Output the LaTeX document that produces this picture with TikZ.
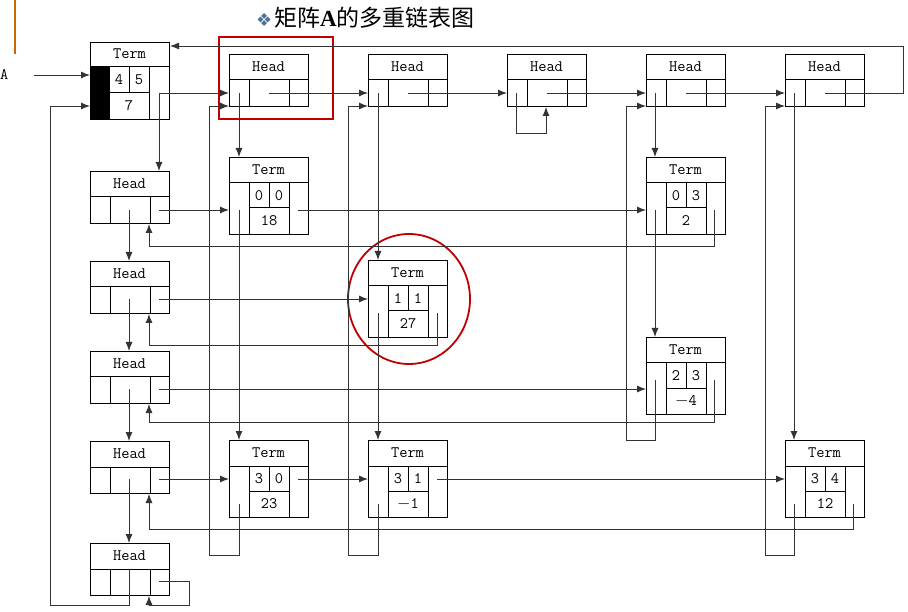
\documentclass[tikz,border=0pt]{standalone}
\usepackage{fontspec}
\setmainfont{Liberation Serif}
\newfontfamily\cjk{Noto Sans CJK SC}
\newfontfamily\djv{DejaVu Sans}
\usetikzlibrary{arrows.meta,calc}
\tikzset{
 box/.style={draw,line width=1pt,minimum width=79pt,inner sep=0pt,anchor=north west},
 lbl/.style={font=\ttfamily\fontsize{16}{16}\selectfont,inner sep=0pt},
 ptr/.style={line width=0.9pt,draw=black!80},
 arr/.style={ptr,-{Latex[length=9pt,width=7pt]}},
 redmark/.style={draw={rgb,255:red,192;green,0;blue,0},line width=1.8pt}
}
\newcommand\HeadBox[3]{%
 \node[box,minimum height=52pt] (#1) at (#2,#3) {};
 \draw[line width=1pt] (#2,#3+26)--++(79,0) (#2+20,#3+26)--++(0,26) (#2+60,#3+26)--++(0,26);
 \node[lbl] (#1-t) at (#2+39.5,#3+13) {Head};
}
\newcommand\TermBox[6]{%
 \node[box,minimum height=77pt] (#1) at (#2,#3) {};
 \draw[line width=1pt] (#2,#3+26)--++(79,0) (#2+20,#3+26)--++(0,51) (#2+60,#3+26)--++(0,51)
   (#2+20,#3+51)--++(40,0) (#2+40,#3+26)--++(0,25);
 \node[lbl] (#1-t) at (#2+39.5,#3+13) {Term};
 \node[lbl] (#1-i) at (#2+30,#3+38.5) {#4};
 \node[lbl] (#1-j) at (#2+50,#3+38.5) {#5};
 \node[lbl] (#1-v) at (#2+40,#3+64) {#6};
}
\begin{document}
\begin{tikzpicture}[x=1pt,y=-1pt]
\useasboundingbox (0,0) rectangle (908,612);
\draw[line width=2pt,draw={rgb,255:red,204;green,102;blue,0}] (15,0)--(15,54);
\node[anchor=west,inner sep=0pt] (title) at (256,18) {{\color[rgb]{0.3,0.45,0.6}\djv\fontsize{18}{18}\selectfont ❖}\,{\cjk\fontsize{23}{23}\selectfont 矩阵}{\fontsize{23}{23}\selectfont\bfseries A}{\cjk\fontsize{23}{23}\selectfont 的多重链表图}};
\node[lbl,anchor=west] (A) at (0,75) {A};
% top-left term
\node[box,minimum height=77pt] (T) at (90,42) {};
\fill (90,67) rectangle (109,119);
\draw[line width=1pt] (90,67)--(169,67) (109,67)--(109,119) (149,67)--(149,119) (109,93)--(149,93) (129,67)--(129,93);
\node[lbl] at (129.5,54) {Term};
\node[lbl] at (119,80) {4};
\node[lbl] at (139,80) {5};
\node[lbl] at (129,106) {7};
% top heads
\HeadBox{c0}{229}{54}
\HeadBox{c1}{368}{54}
\HeadBox{c2}{507}{54}
\HeadBox{c3}{646}{54}
\HeadBox{c4}{785}{54}
% row heads
\HeadBox{r0}{90}{171}
\HeadBox{r1}{90}{261}
\HeadBox{r2}{90}{351}
\HeadBox{r3}{90}{441}
\HeadBox{r4}{90}{543}
% terms
\TermBox{t00}{229}{157}{0}{0}{18}
\TermBox{t03}{646}{157}{0}{3}{2}
\TermBox{t11}{368}{260}{1}{1}{27}
\TermBox{t23}{646}{337}{2}{3}{$-$4}
\TermBox{t30}{229}{440}{3}{0}{23}
\TermBox{t31}{368}{440}{3}{1}{$-$1}
\TermBox{t34}{785}{440}{3}{4}{12}
% marks
\draw[redmark] (219,37) rectangle (333,119);
\draw[redmark] (409,299) ellipse (61 and 65);
% A pointer
\draw[arr] ($(A.east)+(25,0)$) -- (90,75);
\draw[arr] ($(r4.north west)+(39,27)$) |- (50,605) |- (T.west |- 0,106);
% term top-left pointers
\draw[arr] (159,93) -- (c0.west |- 0,93);
\draw[arr] (159,93) -- (r0.north -| 159,0);
% top row next
\draw[arr] ($(c0.north west)+(40,39)$) -- ($(c1.north west)+(0,39)$);
\draw[arr] ($(c1.north west)+(40,39)$) -- ($(c2.north west)+(0,39)$);
\draw[arr] ($(c2.north west)+(40,39)$) -- ($(c3.north west)+(0,39)$);
\draw[arr] ($(c3.north west)+(40,39)$) -- ($(c4.north west)+(0,39)$);
\draw[arr] ($(c4.north west)+(40,39)$) -- (903,93) |- (T.north east |- 0,46);
% column down pointers
\draw[arr] (516,93) |- (546,133) -- (c2.south -| 546,0);
\draw[arr] (239,93) -- (t00.north -| 239,0);
\draw[arr] (378,93) -- (t11.north -| 378,0);
\draw[arr] (655,93) -- (t03.north -| 655,0);
\draw[arr] (794,93) -- (t34.north -| 794,0);
\draw[arr] (239,210) -- (t30.north -| 239,0);
\draw[arr] (378,313) -- (t31.north -| 378,0);
\draw[arr] (655,210) -- (t23.north -| 655,0);
\draw[arr] (655,380) |- (626,440) |- (c3.west |- 0,106);
\draw[arr] (239,504) |- (209,555) |- (c0.west |- 0,106);
\draw[arr] (378,504) |- (348,555) |- (c1.west |- 0,106);
\draw[arr] (794,504) |- (765,555) |- (c4.west |- 0,106);
% row pointers
\draw[arr] (159,210) -- (t00.west |- 0,210);
\draw[arr] (298,210) -- (t03.west |- 0,210);
\draw[arr] (714,210) |- (149,246) -- (r0.south -| 149,0);
\draw[arr] (129,210) -- (r1.north -| 129,0);
\draw[arr] (159,299) -- (t11.west |- 0,299);
\draw[arr] (437,313) |- (149,345) -- (r1.south -| 149,0);
\draw[arr] (129,299) -- (r2.north -| 129,0);
\draw[arr] (159,389) -- (t23.west |- 0,389);
\draw[arr] (714,380) |- (149,422) -- (r2.south -| 149,0);
\draw[arr] (129,389) -- (r3.north -| 129,0);
\draw[arr] (159,479) -- (t30.west |- 0,479);
\draw[arr] (298,479) -- (t31.west |- 0,479);
\draw[arr] (437,479) -- (t34.west |- 0,479);
\draw[arr] (853,504) |- (149,529) -- (r3.south -| 149,0);
\draw[arr] (129,479) -- (r4.north -| 129,0);
\draw[arr] (159,581) -| (189,605) -| (r4.south -| 149,0);
\end{tikzpicture}
\end{document}
